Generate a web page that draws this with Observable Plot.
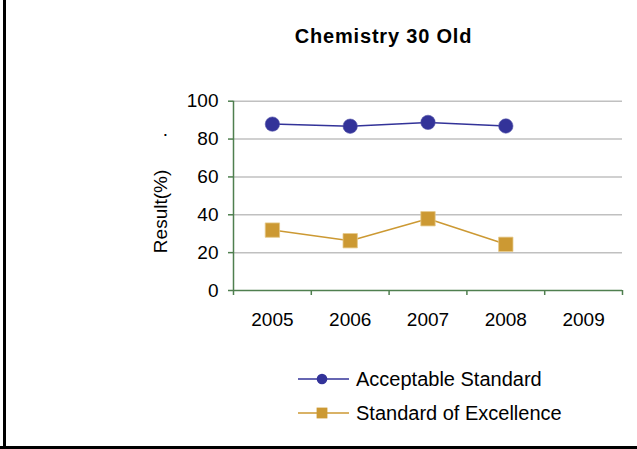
<!DOCTYPE html>
<html>
<head>
<meta charset="utf-8">
<script src="https://cdn.jsdelivr.net/npm/d3@7"></script>
<script src="https://cdn.jsdelivr.net/npm/@observablehq/plot@0.6"></script>
<style>
  html, body { margin: 0; padding: 0; background: #fff; }
  #wrap { position: relative; width: 637px; height: 449px; overflow: hidden; font-family: "Liberation Sans", Arial, sans-serif; }
  #title { position: absolute; top: 24px; left: 383.5px; transform: translateX(-50%); font-size: 20px; font-weight: bold; letter-spacing: 0.8px; white-space: nowrap; line-height: 24px; }
  #chart { position: absolute; top: 60px; left: 0; }
  .lrow { position: absolute; left: 298px; height: 24px; display: flex; align-items: center; font-size: 20px; white-space: nowrap; }
  .lrow svg { margin-right: 7px; }
  #bleft { position: absolute; left: 3px; top: 0; width: 3px; height: 449px; background: #000; }
  #bbottom { position: absolute; left: 0; top: 446px; width: 637px; height: 3px; background: #000; }
</style>
</head>
<body>
<div id="wrap">
  <div id="title">Chemistry 30 Old</div>
  <div id="chart"></div>
  <div id="legend"></div>
  <div id="bleft"></div>
  <div id="bbottom"></div>
</div>
<script>
const title = "Chemistry 30 Old";
const years = [2005, 2006, 2007, 2008, 2009];
const seriesNames = ["Acceptable Standard", "Standard of Excellence"];
const acceptable = [87.9, 86.8, 88.8, 86.9, null];
const excellence = [31.9, 26.3, 37.9, 24.4, null];
const yTicks = [0, 20, 40, 60, 80, 100];
const yLabel = "Result(%)";
const colors = ["#333399", "#CC9933"];
const symbols = ["circle", "square"];

document.getElementById("title").textContent = title;

const table = [];
[acceptable, excellence].forEach((vals, si) => {
  vals.forEach((v, i) => table.push({series: seriesNames[si], year: years[i], value: v}));
});

const green = "#4f7f4f";
const gray = "#c0c0c0";
const xMin = years[0] - 0.5, xMax = years[years.length - 1] + 0.5;
const bounds = [...years.map(y => y - 0.5), xMax];

const plot = Plot.plot({
  width: 637,
  height: 290,
  marginLeft: 233,
  marginRight: 15,
  marginTop: 40.7,
  marginBottom: 60,
  style: { fontFamily: "'Liberation Sans', Arial, sans-serif", fontSize: "19px", color: "#000", background: "transparent", overflow: "visible" },
  x: { type: "linear", domain: [xMin, xMax] },
  y: { domain: [0, 100] },
  marks: [
    Plot.ruleY(yTicks.filter(t => t > 0), { x1: xMin, x2: xMax, stroke: gray, strokeWidth: 1.5 }),
    Plot.axisX(years, { tickSize: 0, tickPadding: 22, tickFormat: d => String(d), fontSize: 19, fill: "#000", label: null }),
    Plot.axisX(bounds, { tickSize: 5, tickFormat: () => "", stroke: green, strokeWidth: 1.5, label: null }),
    Plot.axisY(yTicks, { tickSize: 5, tickPadding: 10, stroke: green, strokeWidth: 1.5, fill: "#000", fontSize: 19, label: null }),
    Plot.ruleY([0], { x1: xMin, x2: xMax, stroke: green, strokeWidth: 1.5 }),
    Plot.ruleX([xMin], { y1: 0, y2: 100, stroke: green, strokeWidth: 1.5 }),
    Plot.text([yLabel], { frameAnchor: "left", textAnchor: "middle", dx: -73, dy: 15.6, rotate: -90, fontSize: 19, fill: "#000" }),
    Plot.text(["."], { frameAnchor: "left", textAnchor: "middle", dx: -68, dy: -66, fontSize: 19, fill: "#000" }),
    ...seriesNames.map((name, si) => Plot.line(table.filter(d => d.series === name), {
      x: "year", y: "value", stroke: colors[si], strokeWidth: 1.5
    })),
    Plot.dot(table.filter(d => d.series === seriesNames[0] && d.value != null), {
      x: "year", y: "value", symbol: "circle", r: 7.2, fill: colors[0], stroke: "#5555aa", strokeWidth: 0.6
    }),
    Plot.dot(table.filter(d => d.series === seriesNames[1] && d.value != null), {
      x: "year", y: "value", symbol: "square", r: 8.1, fill: colors[1], stroke: "#e6c98a", strokeWidth: 0.8
    })
  ]
});
document.getElementById("chart").appendChild(plot);

// legend
const legend = document.getElementById("legend");
const rowCenters = [379, 413];
seriesNames.forEach((name, si) => {
  const row = document.createElement("div");
  row.className = "lrow";
  row.style.top = (rowCenters[si] - 12) + "px";
  const marker = symbols[si] === "circle"
    ? `<circle cx="24" cy="12" r="5.3" fill="${colors[si]}"/>`
    : `<rect x="18.6" y="6.6" width="10.8" height="10.8" fill="${colors[si]}"/>`;
  row.innerHTML = `<svg width="51" height="24"><line x1="0" x2="51" y1="12" y2="12" stroke="${colors[si]}" stroke-width="1.5"/>${marker}</svg><span></span>`;
  row.querySelector("span").textContent = name;
  legend.appendChild(row);
});
</script>
</body>
</html>
